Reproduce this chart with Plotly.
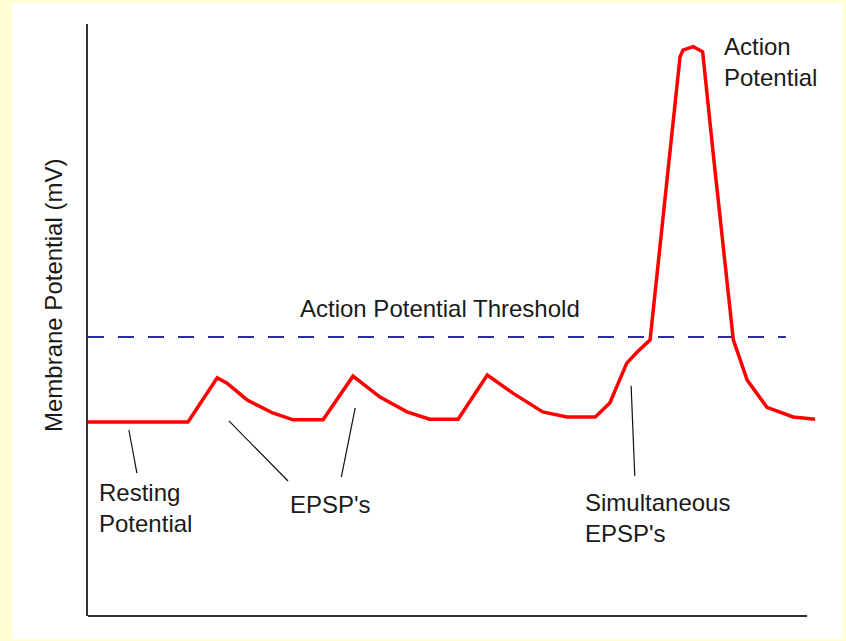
import plotly.graph_objects as go

# Membrane potential trace (time in arbitrary ms units, voltage in mV)
time_ms = [0, 13.7, 17.7, 19.0, 21.8, 25.3, 28.1, 32.2, 36.3, 40.0, 43.7, 46.8, 50.7,
           54.7, 58.2, 62.3, 65.6, 69.5, 71.5, 73.8, 75.2, 77.0, 81.1, 81.5, 82.9, 84.2,
           85.6, 88.4, 90.3, 93.0, 96.6, 99.6]
voltage_mv = [-70, -70, -62.2, -63.1, -66.1, -68.4, -69.6, -69.6, -61.9, -65.6, -68.2, -69.5, -69.5,
              -61.7, -64.9, -68.2, -69.1, -69.1, -66.6, -59.6, -57.7, -55.5, -5.6, -4.4, -3.8, -4.7,
              -22.1, -55.5, -62.6, -67.4, -69.1, -69.5]

threshold_mv = -55
threshold_t = [0, 95.6]

# Labels: (text, t, V) with leader lines (t0, V0, t1, V1)
labels = ["Resting<br>Potential", "EPSP's", "Simultaneous<br>EPSP's", "Action<br>Potential",
          "Action Potential Threshold"]
label_t = [1.2, 27.4, 67.8, 86.8, 28.8]
label_v = [-85.2, -84.6, -86.9, -6.5, -49.9]
leaders = [(5.6, -71.4, 6.7, -79.0),
           (19.3, -69.8, 27.4, -80.4),
           (36.6, -67.5, 34.7, -79.7),
           (74.4, -63.6, 74.9, -79.5)]

y_title = "Membrane Potential (mV)"
y_title_v = -47.6

FONT = "Liberation Sans, Arial, sans-serif"
TXT = "#1a1a1a"
BG = "#ffffd2"

fig = go.Figure()
fig.add_trace(go.Scatter(x=threshold_t, y=[threshold_mv] * 2, mode="lines",
                         line=dict(color="#2e2e9e", width=2, dash="16px,14px"),
                         hoverinfo="skip", showlegend=False))
fig.add_trace(go.Scatter(x=time_ms, y=voltage_mv, mode="lines",
                         line=dict(color="#ff0000", width=3.5),
                         showlegend=False))

shapes = [
    dict(type="rect", xref="paper", yref="paper", x0=-0.1041, x1=1.0342, y0=-0.0389, y1=1.0355,
         fillcolor="white", line=dict(width=0), layer="below"),
    dict(type="line", xref="paper", yref="paper", x0=0, x1=0.985, y0=0, y1=0,
         line=dict(color="#333333", width=2)),
]
for (a, b, c, d) in leaders:
    shapes.append(dict(type="line", xref="x", yref="y", x0=a, y0=b, x1=c, y1=d,
                       line=dict(color="#111111", width=1.2)))

annotations = []
for txt, t, v in zip(labels, label_t, label_v):
    annotations.append(dict(text=txt, x=t, y=v, xref="x", yref="y", showarrow=False,
                            xanchor="left", yanchor="middle", align="left",
                            font=dict(family=FONT, size=24, color=TXT)))
annotations.append(dict(text=y_title, x=-0.048, y=y_title_v, xref="paper", yref="y",
                        showarrow=False, textangle=-90, xanchor="center", yanchor="middle",
                        font=dict(family=FONT, size=24, color=TXT)))

fig.update_layout(
    width=846, height=641,
    margin=dict(l=88, r=28, t=24, b=25),
    paper_bgcolor=BG,
    plot_bgcolor="white",
    shapes=shapes,
    annotations=annotations,
    xaxis=dict(range=[0, 100], showgrid=False, zeroline=False, showticklabels=False,
               ticks="", showline=False, fixedrange=True),
    yaxis=dict(range=[-104.2, 0.2], showgrid=False, zeroline=False, showticklabels=False,
               ticks="", showline=True, linecolor="#333333", linewidth=2,
               automargin=False, fixedrange=True),
)

fig.write_html("out.html", config={"displayModeBar": False},
               post_script="document.body.style.margin='0';document.body.style.background='%s';" % BG)
